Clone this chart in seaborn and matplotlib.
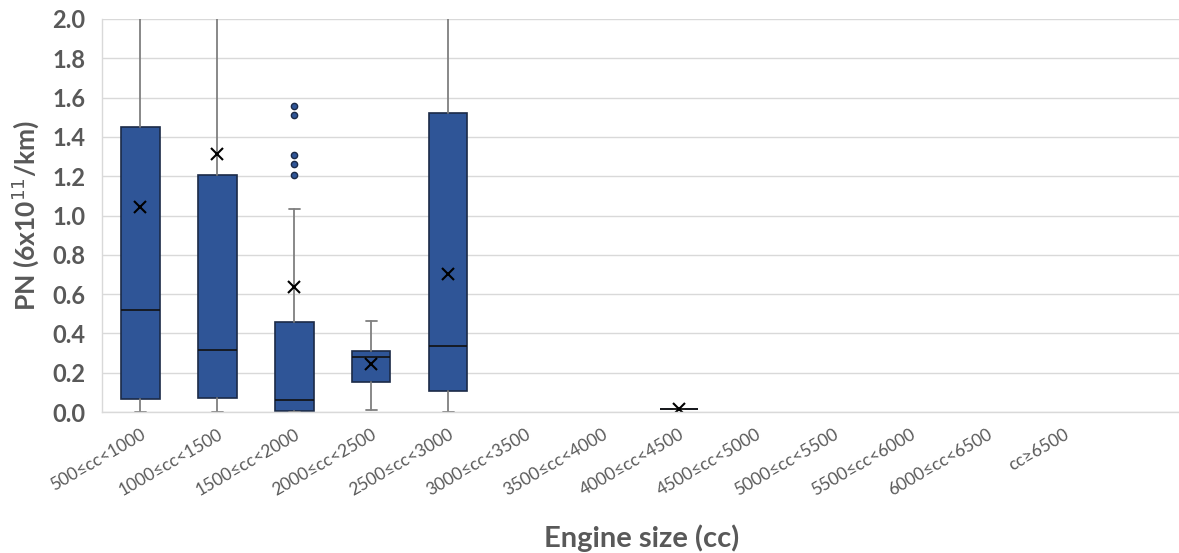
import matplotlib
matplotlib.use("Agg")
import matplotlib.pyplot as plt
import seaborn as sns

# Engine-size classes (the last slot on the axis is left empty)
categories = ["500≤cc<1000", "1000≤cc<1500", "1500≤cc<2000", "2000≤cc<2500",
              "2500≤cc<3000", "3000≤cc<3500", "3500≤cc<4000", "4000≤cc<4500",
              "4500≤cc<5000", "5000≤cc<5500", "5500≤cc<6000", "6000≤cc<6500",
              "cc≥6500"]

# Box statistics per class (None = no data in that class)
whisker_low = [0.00, 0.00, 0.00, 0.01, 0.00, None, None, 0.015, None, None, None, None, None]
q1          = [0.065, 0.07, 0.007, 0.151, 0.107, None, None, 0.015, None, None, None, None, None]
median      = [0.52, 0.315, 0.063, 0.282, 0.334, None, None, 0.015, None, None, None, None, None]
q3          = [1.45, 1.205, 0.456, 0.309, 1.52, None, None, 0.015, None, None, None, None, None]
whisker_high = [2.60, 2.60, 1.032, 0.461, 2.60, None, None, 0.015, None, None, None, None, None]
mean        = [1.043, 1.313, 0.638, 0.244, 0.702, None, None, 0.015, None, None, None, None, None]
outliers = {2: [1.557, 1.511, 1.308, 1.262, 1.204]}

sns.set_theme(style="whitegrid")
plt.rcParams["font.family"] = ["Lato", "DejaVu Sans"]

BOX_BLUE = "#2F5597"
BOX_EDGE = "#1B2A47"
TEXT_GREY = "#595959"

fig = plt.figure(figsize=(11.79, 5.53), dpi=100)
ax = fig.add_axes([102 / 1179, 1 - 412 / 553, 1 - 102 / 1179, (412 - 19) / 553])

stats, positions = [], []
for i in range(len(categories)):
    if median[i] is None:
        continue
    stats.append(dict(med=median[i], q1=q1[i], q3=q3[i],
                      whislo=whisker_low[i], whishi=whisker_high[i],
                      mean=mean[i], fliers=outliers.get(i, [])))
    positions.append(i)

ax.bxp(stats, positions=positions, widths=0.5, capwidths=0.14,
       showmeans=True, patch_artist=True,
       boxprops=dict(facecolor=BOX_BLUE, edgecolor=BOX_EDGE, linewidth=1.2),
       medianprops=dict(color="#111111", linewidth=1.2),
       whiskerprops=dict(color="#7F7F7F", linewidth=1.3),
       capprops=dict(color="#7F7F7F", linewidth=1.3),
       meanprops=dict(marker="x", markeredgecolor="black", markersize=8.5,
                      markeredgewidth=1.5),
       flierprops=dict(marker="o", markerfacecolor=BOX_BLUE,
                       markeredgecolor=BOX_EDGE, markersize=4.5,
                       markeredgewidth=1.0))

ax.set_xlim(-0.5, len(categories) + 0.5)
ax.set_ylim(0, 2.0)
ax.set_yticks([i * 0.2 for i in range(11)])
ax.set_yticklabels([f"{i * 0.2:.1f}" for i in range(11)],
                   fontsize=17, fontweight="bold", color=TEXT_GREY)
ax.set_xticks(range(len(categories)))
ax.set_xticklabels(categories, rotation=30, ha="right", rotation_mode="anchor",
                   fontsize=12.5, color=TEXT_GREY)
ax.tick_params(axis="both", length=0)
ax.tick_params(axis="x", pad=10)
ax.tick_params(axis="y", pad=12)

ax.grid(axis="y", color="#D9D9D9", linewidth=1.0)
ax.grid(axis="x", visible=False)
for side in ["top", "right"]:
    ax.spines[side].set_visible(False)
for side in ["left", "bottom"]:
    ax.spines[side].set_color("#D9D9D9")
    ax.spines[side].set_linewidth(1.0)
ax.set_facecolor("white")

ax.set_ylabel("PN (6x10$^{11}$/km)", fontsize=19, fontweight="bold",
              color=TEXT_GREY, labelpad=8)
fig.text(642 / 1179, 1 - 538 / 553, "Engine size (cc)", fontsize=21,
         fontweight="bold", color=TEXT_GREY, ha="center", va="center")

fig.savefig("out.png", dpi=100, facecolor="white")
